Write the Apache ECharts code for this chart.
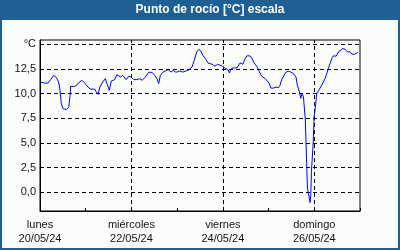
<!DOCTYPE html>
<html><head><meta charset="utf-8">
<script src="https://cdn.jsdelivr.net/npm/echarts@6/dist/echarts.min.js"></script>
<style>html,body{margin:0;padding:0;background:#fff}#c{width:400px;height:250px}</style>
</head><body><div id="c"></div>
<script>
const titleText = 'Punto de rocío [°C] escala';
// hours since 20/05/24 00:00
const hours = [
0,2.5,4.2,5.6,7.2,8.6,9.8,10.5,11.2,12.1,
13.8,15.1,15.8,16.1,18.2,19.3,20.3,22.1,23.5,25.2,
26.4,28.7,29.6,30.5,31.4,32.6,34.3,35.3,36.4,37.4,
39.2,40.4,42.2,43.4,45.2,46.6,47.9,49.2,50.9,52.2,
53.6,55.3,57.1,58.8,60.2,61.4,62.3,63.2,64.4,65.8,
67.2,68.8,70,71.4,73.2,74.9,76.7,78.4,79.8,81,
82.3,83.3,84.4,85.4,86.8,88.2,90.3,91.8,93.3,94.5,
96,97.3,98.7,99.4,100.5,101.9,103.6,105,106.5,107.7,
108.6,110.3,111.3,112.4,113.8,115.2,116.4,118.2,119.4,120.4,
121.2,122.5,123.9,125.2,126,126.9,128.1,129.2,130.4,131.7,
133,134.4,135.1,136.2,136.9,137.6,138.3,139,139.3,140,
140.4,141.1,141.8,142.2,142.5,143.2,143.5,143.9,144.6,145.3,
146.4,147.9,149.7,151.4,152.3,153.2,154,155.5,156.7,157.9,
159,160.2,161.4,162.8,163.8,165.3,166.9
];
const dewPoint = [
11.18,11.08,11.08,11.43,11.87,11.63,11.18,10.34,8.98,8.47,
8.4,8.63,9.83,10.74,10.74,10.85,11.12,11.36,11.08,10.67,
10.47,10.47,10.16,9.93,10.67,11.08,11.53,10.95,10.34,11.29,
11.43,11.94,11.69,11.87,11.43,11.77,11.69,11.43,11.43,11.53,
11.36,11.69,12.17,12.17,11.87,11.53,11.02,11.87,12.17,12.31,
12.45,12.2,12.38,12.17,12.31,12.2,12.31,12.45,12.71,13.4,
14.24,14.49,14.35,13.91,13.57,13.12,12.99,12.79,12.99,12.89,
12.79,12.55,12.45,12.1,12.58,12.61,12.65,13.12,12.99,13.57,
13.84,13.84,13.57,13.12,12.79,12.2,11.77,11.53,11.29,11.02,
10.57,10.57,10.67,10.61,10.85,11.43,11.87,12.2,12.28,12.2,
12.04,11.69,10.87,10.19,9.52,10.03,9.69,9.52,7.33,2.94,
0.41,-0.27,-1.05,-0.1,2.09,4.29,5.3,7.66,8.67,10.03,
10.36,10.87,11.55,12.56,13.07,13.58,13.84,13.81,14.25,14.42,
14.59,14.49,14.25,14.25,14.01,14.01,14.21
];
const yTickValues = [0, 2.5, 5, 7.5, 10, 12.5, 15];
const yUnitLabel = '°C';
const xLabelHours = [0, 48, 96, 144];
const xLabelDays = ['lunes', 'miércoles', 'viernes', 'domingo'];
const xLabelDates = ['20/05/24', '22/05/24', '24/05/24', '26/05/24'];

const blue = '#1e5f96';
const bg = '#fafdfa';
const font = 'Liberation Sans';

const chart = echarts.init(document.getElementById('c'), null, {renderer: 'canvas'});
const markData = yTickValues.map(v => ({yAxis: v})).concat(xLabelHours.slice(1).map(v => ({xAxis: v})));
chart.setOption({
  animation: false,
  backgroundColor: bg,
  graphic: [
    {type: 'rect', z: -10, shape: {x: 1, y: 1, width: 398, height: 248}, style: {fill: bg, stroke: blue, lineWidth: 2}},
    {type: 'rect', z: -9, shape: {x: 0, y: 0, width: 400, height: 20}, style: {fill: blue}},
    {type: 'text', z: 10, x: 210, y: 10, style: {text: titleText, fill: '#fff', font: 'bold 12px "' + font + '"', textAlign: 'center', textVerticalAlign: 'middle'}}
  ],
  grid: {left: 40, right: 40, top: 40, bottom: 39, show: true, borderColor: '#000', borderWidth: 1, backgroundColor: bg},
  xAxis: {
    type: 'value', min: 0, max: 168, interval: 24,
    axisLine: {show: true, onZero: false, lineStyle: {color: '#000', width: 1}},
    axisTick: {show: true, inside: true, length: 3, lineStyle: {color: '#000'}},
    splitLine: {show: false},
    axisLabel: {
      show: true, margin: 7, color: '#111', fontFamily: font, fontSize: 11, lineHeight: 14,
      showMinLabel: true, showMaxLabel: true,
      formatter: v => { const i = xLabelHours.indexOf(v); return i < 0 ? '' : xLabelDays[i] + '\n' + xLabelDates[i]; }
    }
  },
  yAxis: {
    type: 'value', min: -1.9, max: 15.45,
    axisLine: {show: true, lineStyle: {color: '#000'}},
    axisTick: {show: false},
    splitLine: {show: false},
    axisLabel: {
      show: true, margin: 4, color: '#111', fontFamily: font, fontSize: 11,
      customValues: yTickValues,
      formatter: v => v === 15 ? yUnitLabel : v.toFixed(1).replace('.', ',')
    }
  },
  series: [{
    type: 'line',
    data: hours.map((h, i) => [h, dewPoint[i]]),
    showSymbol: false,
    lineStyle: {color: '#0000ff', width: 1},
    z: 5,
    markLine: {
      silent: true, symbol: 'none', label: {show: false},
      lineStyle: {color: '#000', type: [4, 3], width: 1},
      data: markData, z: 2
    }
  }]
});
</script></body></html>
